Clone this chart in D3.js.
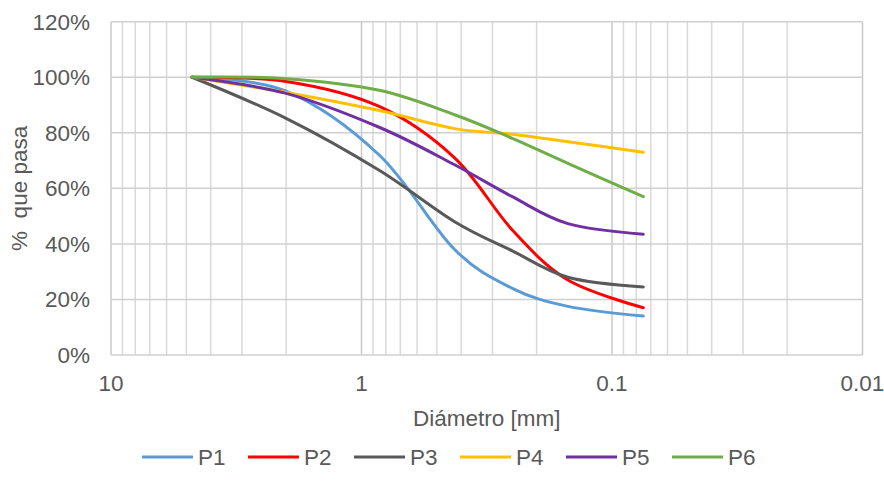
<!DOCTYPE html>
<html>
<head>
<meta charset="utf-8">
<script src="https://cdn.jsdelivr.net/npm/d3@7"></script>
<style>
  body { margin: 0; background: #fff; }
  text { font-family: "Liberation Sans", Arial, sans-serif; fill: #595959; }
</style>
</head>
<body>
<svg id="chart" width="884" height="492"></svg>
<script>
// Sieve openings (mm) and percent passing for each sample
const sizes = [4.75, 2.0, 0.85, 0.425, 0.25, 0.15, 0.075];
const seriesNames = ["P1", "P2", "P3", "P4", "P5", "P6"];
const p1 = [100, 95, 72, 38, 24, 17.5, 14];
const p2 = [100, 98.5, 89.5, 71, 45, 27, 17];
const p3 = [100, 85.2, 66.5, 48, 37.5, 28, 24.5];
const p4 = [100, 94.5, 88, 81.5, 79.5, 76.8, 73];
const p5 = [100, 94.2, 82, 68.5, 57, 47.3, 43.5];
const p6 = [100, 99.5, 95.3, 86.5, 78, 69, 57];
const colors = ["#5B9BD5", "#FF0000", "#595959", "#FFC000", "#7030A0", "#70AD47"];
const yTicks = [0, 20, 40, 60, 80, 100, 120];
const xTicks = [10, 1, 0.1, 0.01];
const xTickLabels = ["10", "1", "0.1", "0.01"];

const values = [p1, p2, p3, p4, p5, p6];
const fontSize = "22.5px";

const svg = d3.select("#chart");
const x = d3.scaleLog().domain([10, 0.01]).range([111, 862.5]);
const y = d3.scaleLinear().domain([0, 120]).range([355, 21.7]);

// minor gridlines: 2..9 within each decade
const minor = [];
[1, 0.1, 0.01].forEach(d => { for (let k = 2; k <= 9; k++) minor.push(k * d); });

const grid = svg.append("g");
grid.selectAll("line.minor").data(minor).enter().append("line")
  .attr("x1", d => x(d)).attr("x2", d => x(d))
  .attr("y1", y(120)).attr("y2", y(0))
  .attr("stroke", "#d9d9d9").attr("stroke-width", 1.5);
grid.selectAll("line.major").data(xTicks).enter().append("line")
  .attr("x1", d => x(d)).attr("x2", d => x(d))
  .attr("y1", y(120)).attr("y2", y(0))
  .attr("stroke", "#c8c8c8").attr("stroke-width", 1.5);
grid.selectAll("line.h").data(yTicks).enter().append("line")
  .attr("x1", x(10)).attr("x2", x(0.01))
  .attr("y1", d => y(d)).attr("y2", d => y(d))
  .attr("stroke", "#d0d0d0").attr("stroke-width", 1.5);

// y axis labels
svg.append("g").selectAll("text").data(yTicks).enter().append("text")
  .attr("x", 90).attr("y", d => y(d))
  .attr("dy", "0.35em").attr("text-anchor", "end")
  .style("font-size", fontSize)
  .text(d => d + "%");

// x axis labels
svg.append("g").selectAll("text").data(xTicks).enter().append("text")
  .attr("x", d => x(d)).attr("y", 391)
  .attr("text-anchor", "middle")
  .style("font-size", fontSize)
  .text((d, i) => xTickLabels[i]);

// axis titles
svg.append("text")
  .attr("x", (x(10) + x(0.01)) / 2).attr("y", 426)
  .attr("text-anchor", "middle")
  .style("font-size", fontSize)
  .text("Diámetro [mm]");

svg.append("text")
  .attr("transform", `translate(27,${(y(0) + y(120)) / 2}) rotate(-90)`)
  .attr("text-anchor", "middle")
  .style("font-size", fontSize)
  .style("white-space", "pre")
  .text("%  que pasa");

// smoothed gradation curves
const line = d3.line()
  .x(d => x(d[0]))
  .y(d => y(d[1]))
  .curve(d3.curveCardinal.tension(0));

svg.append("g").selectAll("path").data(values).enter().append("path")
  .attr("d", v => line(sizes.map((s, i) => [s, v[i]])))
  .attr("fill", "none")
  .attr("stroke", (v, i) => colors[i])
  .attr("stroke-width", 3)
  .attr("stroke-linecap", "round");

// legend
const legend = svg.append("g");
const legY = 457;
seriesNames.forEach((name, i) => {
  const lx = 142 + i * 106;
  legend.append("line")
    .attr("x1", lx).attr("x2", lx + 51)
    .attr("y1", legY).attr("y2", legY)
    .attr("stroke", colors[i]).attr("stroke-width", 3);
  legend.append("text")
    .attr("x", lx + 56).attr("y", legY)
    .attr("dy", "0.35em")
    .style("font-size", fontSize)
    .text(name);
});
</script>
</body>
</html>
